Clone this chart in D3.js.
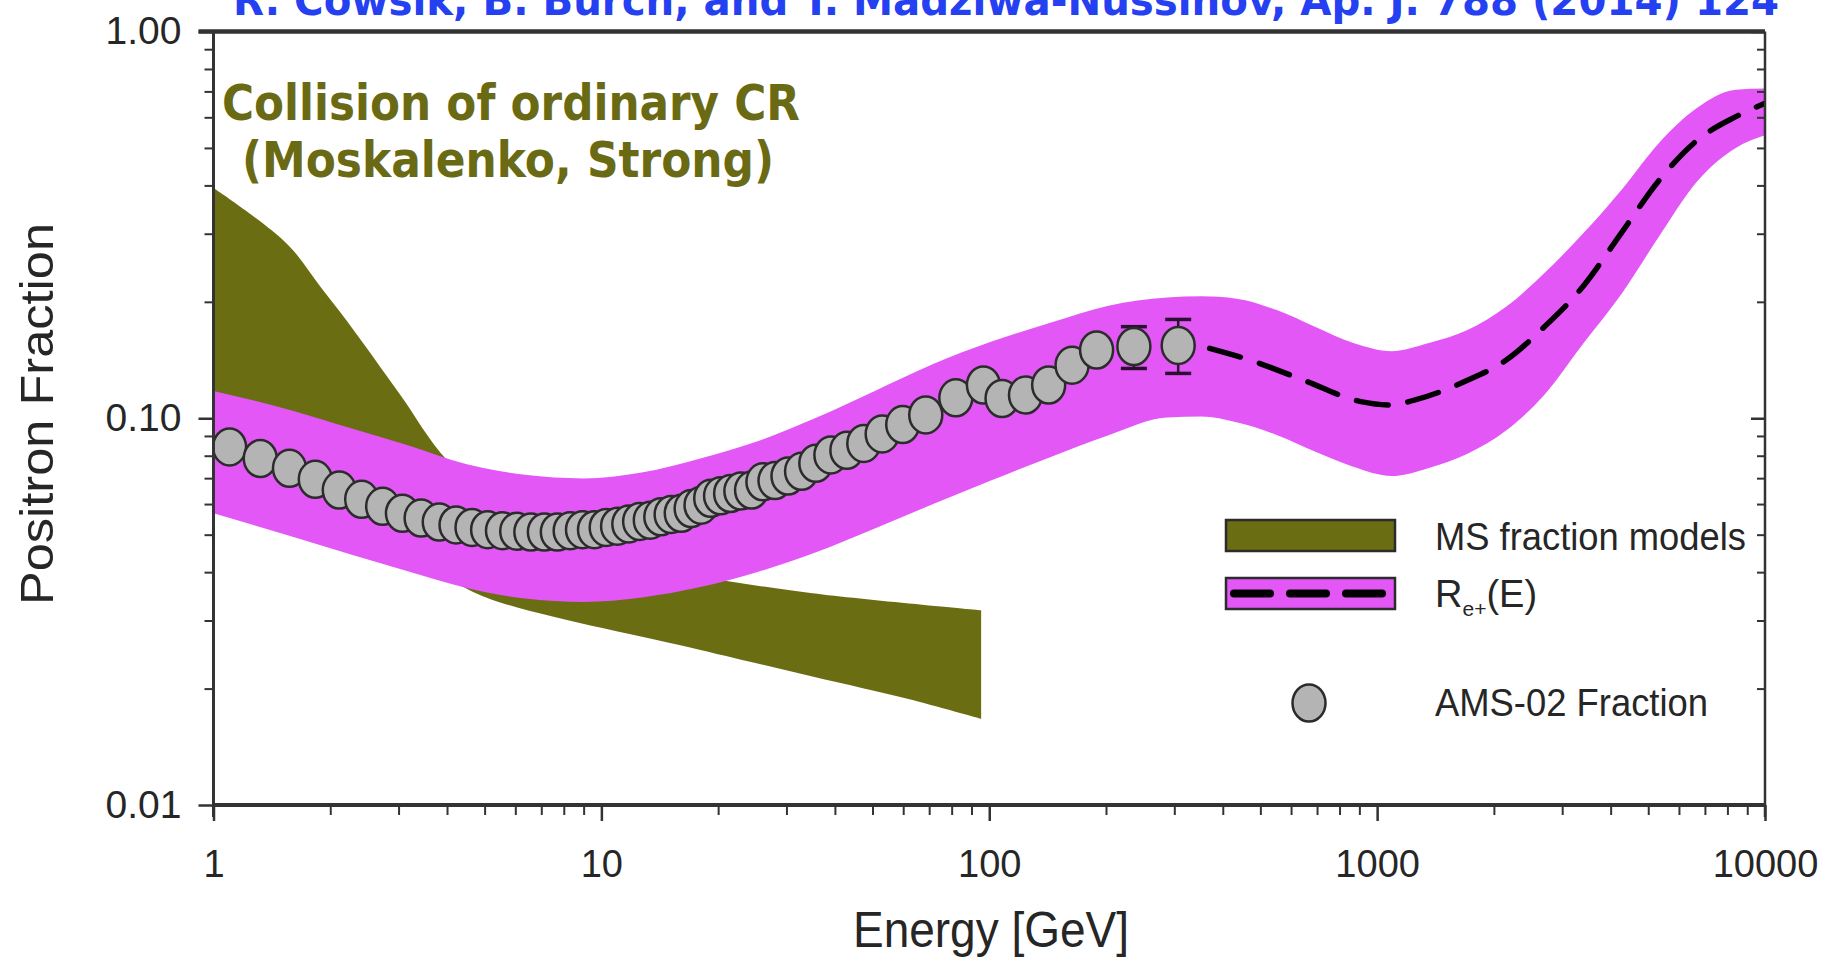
<!DOCTYPE html>
<html><head><meta charset="utf-8">
<script src="https://cdn.jsdelivr.net/npm/d3@7"></script>
<style>body{margin:0;background:#fff;overflow:hidden}svg{display:block}</style>
</head><body>
<svg id="c" width="1829" height="959"></svg>
<script>
// ---------- DATA ----------
const titleText = "R. Cowsik, B. Burch, and T. Madziwa-Nussinov, Ap. J. 788 (2014) 124";
const xTickValues = [1, 10, 100, 1000, 10000];
const xTickLabels = ["1", "10", "100", "1000", "10000"];
const yTickValues = [0.01, 0.1, 1];
const yTickLabels = ["0.01", "0.10", "1.00"];

// R_e+(E) model band (magenta)
const bandE     = [1, 1.6, 2.25, 3.2, 4.5, 6.35, 9, 12.7, 18, 25.4, 35.9, 50.7, 71.7, 101, 143, 203, 287, 353, 434, 553, 691, 868, 1090, 1360, 1710, 2150, 2700, 3400, 4270, 5330, 6690, 8410, 10000];
const bandUpper = [0.1177, 0.1046, 0.0943, 0.0849, 0.0760, 0.0714, 0.0699, 0.0724, 0.0787, 0.0873, 0.1004, 0.1177, 0.1381, 0.1576, 0.1762, 0.1955, 0.2052, 0.2066, 0.2038, 0.1901, 0.1725, 0.1565, 0.1491, 0.1565, 0.1690, 0.1941, 0.2374, 0.3007, 0.3900, 0.5150, 0.6350, 0.7067, 0.7117];
const bandLower = [0.0568, 0.0494, 0.0445, 0.0401, 0.0364, 0.0342, 0.0335, 0.0344, 0.0366, 0.0401, 0.0451, 0.0519, 0.0600, 0.0690, 0.0792, 0.0904, 0.1004, 0.1010, 0.0976, 0.0904, 0.0820, 0.0749, 0.0709, 0.0744, 0.0809, 0.0929, 0.1150, 0.1560, 0.2100, 0.2950, 0.4100, 0.5000, 0.5389];

// R_e+(E) central curve (dashed), drawn beyond the data
const modelE = [370, 470, 646, 908, 1088, 1247, 1715, 2152, 2701, 3390, 4256, 5340, 6701, 8410, 10000];
const modelF = [0.1516, 0.1414, 0.1255, 0.1104, 0.1082, 0.1114, 0.1255, 0.1414, 0.1725, 0.2188, 0.3007, 0.4130, 0.5242, 0.6022, 0.6520];

// MS fraction models band (olive)
const msUpperE = [1, 1.205, 1.568, 1.891, 2.249, 3.029, 3.998, 6.35, 10.32, 17.96, 35.0, 95.3];
const msUpperF = [0.394, 0.3454, 0.2786, 0.2180, 0.1740, 0.1150, 0.0780, 0.0530, 0.0436, 0.0390, 0.0353, 0.0319];
const msLowerE = [1, 2.249, 3.6, 5.2, 17.9, 35.0, 61.9, 95.3];
const msLowerF = [0.0608, 0.0467, 0.0405, 0.0340, 0.0252, 0.0215, 0.0188, 0.0167];

// AMS-02 positron fraction
const amsE = [1.10, 1.32, 1.57, 1.83, 2.11, 2.41, 2.73, 3.07, 3.43, 3.82, 4.22, 4.64, 5.09, 5.56, 6.05, 6.58, 7.13, 7.70, 8.31, 8.94, 9.60, 10.29, 11.01, 11.77, 12.55, 13.37, 14.23, 15.13, 16.07, 17.04, 18.07, 19.14, 20.29, 21.54, 22.89, 24.39, 26.09, 28.03, 30.28, 32.82, 35.72, 39.06, 42.95, 47.49, 52.96, 59.83, 68.6, 82.0, 96.6, 107.9, 124.0, 142.3, 163.5, 189.1, 236.0, 307.0];
const amsF = [0.0843, 0.0787, 0.0742, 0.0695, 0.0652, 0.0617, 0.0592, 0.0568, 0.0552, 0.0539, 0.0530, 0.0522, 0.0515, 0.0512, 0.0510, 0.0508, 0.0508, 0.0508, 0.0512, 0.0515, 0.0515, 0.0522, 0.0526, 0.0533, 0.0541, 0.0545, 0.0556, 0.0564, 0.0568, 0.0584, 0.0596, 0.0621, 0.0630, 0.0639, 0.0648, 0.0652, 0.0685, 0.0690, 0.0709, 0.0729, 0.0765, 0.0804, 0.0826, 0.0861, 0.0911, 0.0963, 0.1020, 0.1129, 0.1219, 0.1125, 0.1148, 0.1219, 0.1372, 0.1501, 0.1533, 0.1543];
const errE  = [236.0, 307.0];
const errLo = [0.1345, 0.1306];
const errHi = [0.1725, 0.1801];

const legendLabels = ["MS fraction models", "R", "AMS-02 Fraction"];

// ---------- LAYOUT ----------
const L = 213.5, R = 1765, T = 31.5, B = 805;
const C = { olive: "#6b6d12", magenta: "#e257f5", axis: "#333", pt: "#b4b4b4", ptStroke: "#2b2b2b", title: "#2440f0", note: "#6a6a14" };
const FONT = "'Liberation Sans', Arial, sans-serif";
const BOLD = "'DejaVu Sans', Verdana, sans-serif";

const svg = d3.select("#c");
const x = d3.scaleLog().domain([1, 10000]).range([L, R]);
const y = d3.scaleLog().domain([0.01, 1]).range([B, T]);

function fit(sel, target) { sel.attr("textLength", target).attr("lengthAdjust", "spacingAndGlyphs"); }

svg.append("defs").append("clipPath").attr("id", "plot").append("rect")
  .attr("x", L).attr("y", T).attr("width", R - L).attr("height", B - T);
const g = svg.append("g").attr("clip-path", "url(#plot)");

// olive band
const cr = d3.line().x(d => x(d[0])).y(d => y(d[1])).curve(d3.curveCatmullRom.alpha(0.5));
const up = msUpperE.map((e, i) => [e, msUpperF[i]]);
const lo = msLowerE.map((e, i) => [e, msLowerF[i]]).reverse();
g.append("path").attr("fill", C.olive)
  .attr("d", cr(up) + cr(lo).replace(/^M/, "L") + "Z");

// magenta band
const band = bandE.map((e, i) => ({ e, lo: bandLower[i], hi: bandUpper[i] }));
g.append("path").attr("fill", C.magenta)
  .attr("d", d3.area().x(d => x(d.e)).y0(d => y(d.lo)).y1(d => y(d.hi)).curve(d3.curveMonotoneX)(band));

// dashed model curve
g.append("path").attr("fill", "none").attr("stroke", "#000").attr("stroke-width", 5.5)
  .attr("stroke-dasharray", "32 20").attr("stroke-linecap", "round")
  .attr("d", d3.line().x(d => x(d[0])).y(d => y(d[1])).curve(d3.curveMonotoneX)(modelE.map((e, i) => [e, modelF[i]])));

// error bars
errE.forEach((e, i) => {
  const xe = x(e), y1 = y(errHi[i]), y0 = y(errLo[i]);
  g.append("line").attr("x1", xe).attr("x2", xe).attr("y1", y1).attr("y2", y0).attr("stroke", "#2a1030").attr("stroke-width", 2.5);
  [y1, y0].forEach(yy => g.append("line").attr("x1", xe - 13).attr("x2", xe + 13).attr("y1", yy).attr("y2", yy).attr("stroke", "#2a1030").attr("stroke-width", 3.5));
});

// points
g.selectAll("ellipse.pt").data(amsE.map((e, i) => [e, amsF[i]])).enter().append("ellipse")
  .attr("class", "pt").attr("cx", d => x(d[0])).attr("cy", d => y(d[1]))
  .attr("rx", 16.5).attr("ry", 18.5).attr("fill", C.pt).attr("stroke", C.ptStroke).attr("stroke-width", 2.5);

// ---------- AXES ----------
function minorTicks(lo, hi) { const out = []; for (let d = lo; d < hi; d *= 10) for (let k = 2; k <= 9; k++) out.push(d * k); return out; }
const axStyle = s => { s.selectAll("path,line").attr("stroke", C.axis); s.select(".domain").remove(); };

// bottom
svg.append("g").attr("transform", `translate(0,${B})`)
  .call(d3.axisBottom(x).tickValues(minorTicks(1, 10000)).tickSize(10).tickFormat(""))
  .call(axStyle).selectAll("line").attr("stroke-width", 2);
const xb = svg.append("g").attr("transform", `translate(0,${B})`)
  .call(d3.axisBottom(x).tickValues(xTickValues).tickSize(16).tickPadding(29).tickFormat((d, i) => xTickLabels[i]))
  .call(axStyle);
xb.selectAll("line").attr("stroke-width", 2.5);
xb.selectAll("text").attr("font-family", FONT).attr("font-size", 38).attr("fill", "#262626");

// left
svg.append("g").attr("transform", `translate(${L},0)`)
  .call(d3.axisLeft(y).tickValues(minorTicks(0.01, 1)).tickSize(9).tickFormat(""))
  .call(axStyle).selectAll("line").attr("stroke-width", 2);
const yl = svg.append("g").attr("transform", `translate(${L},0)`)
  .call(d3.axisLeft(y).tickValues(yTickValues).tickSize(15).tickPadding(17).tickFormat((d, i) => yTickLabels[i]))
  .call(axStyle);
yl.selectAll("line").attr("stroke-width", 2.5);
yl.selectAll("text").attr("font-family", FONT).attr("font-size", 39).attr("fill", "#262626");

// right (inward ticks)
svg.append("g").attr("transform", `translate(${R},0)`)
  .call(d3.axisLeft(y).tickValues(minorTicks(0.01, 1)).tickSize(8).tickFormat(""))
  .call(axStyle).selectAll("line").attr("stroke-width", 2);
svg.append("g").attr("transform", `translate(${R},0)`)
  .call(d3.axisLeft(y).tickValues(yTickValues).tickSize(14).tickFormat(""))
  .call(axStyle).selectAll("line").attr("stroke-width", 2.5);

// frame
svg.append("line").attr("x1", L).attr("x2", R).attr("y1", B).attr("y2", B).attr("stroke", C.axis).attr("stroke-width", 4);
svg.append("line").attr("x1", L - 15).attr("x2", R).attr("y1", T).attr("y2", T).attr("stroke", C.axis).attr("stroke-width", 4.5);
svg.append("line").attr("x1", L).attr("x2", L).attr("y1", T).attr("y2", B + 12).attr("stroke", C.axis).attr("stroke-width", 3);
svg.append("line").attr("x1", R).attr("x2", R).attr("y1", T).attr("y2", B + 12).attr("stroke", C.axis).attr("stroke-width", 2.5);

// axis titles
svg.append("text").attr("x", 991).attr("y", 947).attr("text-anchor", "middle")
  .attr("font-family", FONT).attr("font-size", 50).attr("fill", "#262626").text("Energy [GeV]").call(fit, 276);
svg.append("text").attr("transform", "translate(53,414) rotate(-90)").attr("text-anchor", "middle")
  .attr("font-family", FONT).attr("font-size", 46).attr("fill", "#262626").text("Positron Fraction").call(fit, 382);

// title (partly cut off at top edge, as in the source figure)
svg.append("text").attr("x", 233).attr("y", 15).attr("font-family", BOLD).attr("font-weight", "bold")
  .attr("font-size", 42).attr("fill", C.title).text(titleText).call(fit, 1546);

// annotation
svg.append("text").attr("x", 222).attr("y", 120).attr("font-family", BOLD).attr("font-weight", "bold")
  .attr("font-size", 50).attr("fill", C.note).text("Collision of ordinary CR").call(fit, 578);
svg.append("text").attr("x", 242).attr("y", 177).attr("font-family", BOLD).attr("font-weight", "bold")
  .attr("font-size", 50).attr("fill", C.note).text("(Moskalenko, Strong)").call(fit, 532);

// ---------- LEGEND ----------
const lg = svg.append("g");
lg.append("rect").attr("x", 1226).attr("y", 520).attr("width", 169).attr("height", 31).attr("fill", C.olive).attr("stroke", "#2b2b2b").attr("stroke-width", 2.5);
lg.append("rect").attr("x", 1226).attr("y", 578).attr("width", 169).attr("height", 31).attr("fill", C.magenta).attr("stroke", "#2b2b2b").attr("stroke-width", 2.5);
lg.append("line").attr("x1", 1234).attr("x2", 1384).attr("y1", 593.5).attr("y2", 593.5).attr("stroke", "#000").attr("stroke-width", 8)
  .attr("stroke-linecap", "round").attr("stroke-dasharray", "36 20");
lg.append("ellipse").attr("cx", 1309).attr("cy", 703).attr("rx", 16.5).attr("ry", 18.5).attr("fill", C.pt).attr("stroke", C.ptStroke).attr("stroke-width", 2.5);
lg.append("text").attr("x", 1435).attr("y", 550).attr("font-family", FONT).attr("font-size", 38).attr("fill", "#262626").text(legendLabels[0]).call(fit, 311);
const rt = lg.append("text").attr("x", 1435).attr("y", 607).attr("font-family", FONT).attr("font-size", 38).attr("fill", "#262626");
rt.append("tspan").text(legendLabels[1]);
rt.append("tspan").attr("font-size", 21).attr("dy", 9).text("e+");
rt.append("tspan").attr("dy", -9).text("(E)");
lg.append("text").attr("x", 1435).attr("y", 716).attr("font-family", FONT).attr("font-size", 38).attr("fill", "#262626").text(legendLabels[2]).call(fit, 273);
</script>
</body></html>
